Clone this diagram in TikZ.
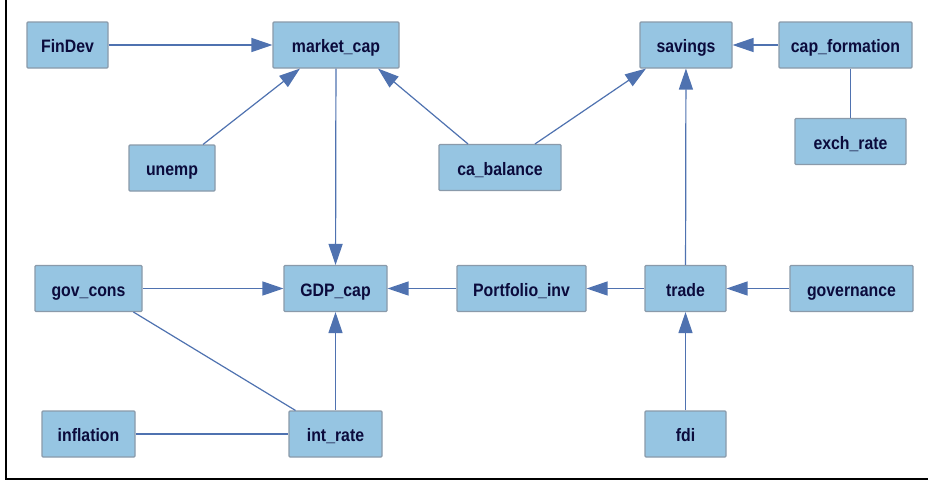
\documentclass[tikz,border=0pt]{standalone}
\usepackage{fontspec}
\setmainfont{Liberation Sans}[FakeStretch=0.88]
\usetikzlibrary{arrows.meta}
\definecolor{boxfill}{HTML}{96C5E2}
\definecolor{boxline}{HTML}{8A9AAA}
\definecolor{edgecol}{HTML}{4F72B0}
\definecolor{labelcol}{HTML}{0B0B3C}
\tikzset{
  box/.style={rectangle, fill=boxfill, draw=boxline, line width=1.1pt,
    rounded corners=1pt, minimum height=46pt, inner sep=0pt,
    text height=15.5pt, text depth=0pt,
    text=labelcol, font=\fontsize{18}{21}\selectfont\bfseries},
  link/.style={draw=edgecol, line width=1.2pt},
  causes/.style={link, -{Triangle[length=21pt,width=14pt]}},
}
\begin{document}
\begin{tikzpicture}[x=1pt,y=-1pt]
  \useasboundingbox (0,0) rectangle (928,480);
  \fill[white] (0,0) rectangle (928,480);
  % frame
  \draw[black, line width=2.2pt] (6,0) -- (6,478.9) -- (928,478.9);

  % variables
  \node[box, minimum width=81pt]  (FinDev)    at (67.5,45)  {FinDev};
  \node[box, minimum width=126pt] (marketcap) at (336,45)   {market\_cap};
  \node[box, minimum width=92pt]  (savings)   at (686,45)   {savings};
  \node[box, minimum width=133pt] (capform)   at (845.5,45) {cap\_formation};
  \node[box, minimum width=111pt] (exchrate)  at (850.5,141.5) {exch\_rate};
  \node[box, minimum width=86pt]  (unemp)     at (172,168)  {unemp};
  \node[box, minimum width=122pt] (cabal)     at (500,167.5) {ca\_balance};
  \node[box, minimum width=107pt] (govcons)   at (88.5,288.5) {gov\_cons};
  \node[box, minimum width=103pt] (gdpcap)    at (335.5,288.5) {GDP\_cap};
  \node[box, minimum width=129pt] (portinv)   at (521.5,288.5) {Portfolio\_inv};
  \node[box, minimum width=81pt]  (trade)     at (685.5,288.5) {trade};
  \node[box, minimum width=123pt] (governance) at (851.5,288.5) {governance};
  \node[box, minimum width=93pt]  (inflation) at (88.5,434)  {inflation};
  \node[box, minimum width=93pt]  (intrate)   at (335.5,434) {int\_rate};
  \node[box, minimum width=81pt]  (fdi)       at (685.5,434) {fdi};

  % directed links
  \draw[causes] (FinDev) -- (marketcap);
  \draw[causes] ([xshift=31pt]unemp.north) -- ([xshift=-36pt]marketcap.south);
  \draw[causes] ([xshift=-32pt]cabal.north) -- ([xshift=42pt]marketcap.south);
  \draw[causes] ([xshift=35pt]cabal.north) -- ([xshift=-40pt]savings.south);
  \draw[causes] (marketcap) -- (gdpcap);
  \draw[causes] (capform) -- (savings);
  \draw[causes] (govcons) -- (gdpcap);
  \draw[causes] (intrate) -- (gdpcap);
  \draw[causes] (portinv) -- (gdpcap);
  \draw[causes] (trade) -- (portinv);
  \draw[causes] (trade) -- (savings);
  \draw[causes] (governance) -- (trade);
  \draw[causes] (fdi) -- (trade);

  % undirected links
  \draw[link] (capform.south -| exchrate) -- (exchrate);
  \draw[link] ([xshift=45pt]govcons.south) -- ([xshift=-40pt]intrate.north);
  \draw[link] (inflation) -- (intrate);
\end{tikzpicture}
\end{document}
